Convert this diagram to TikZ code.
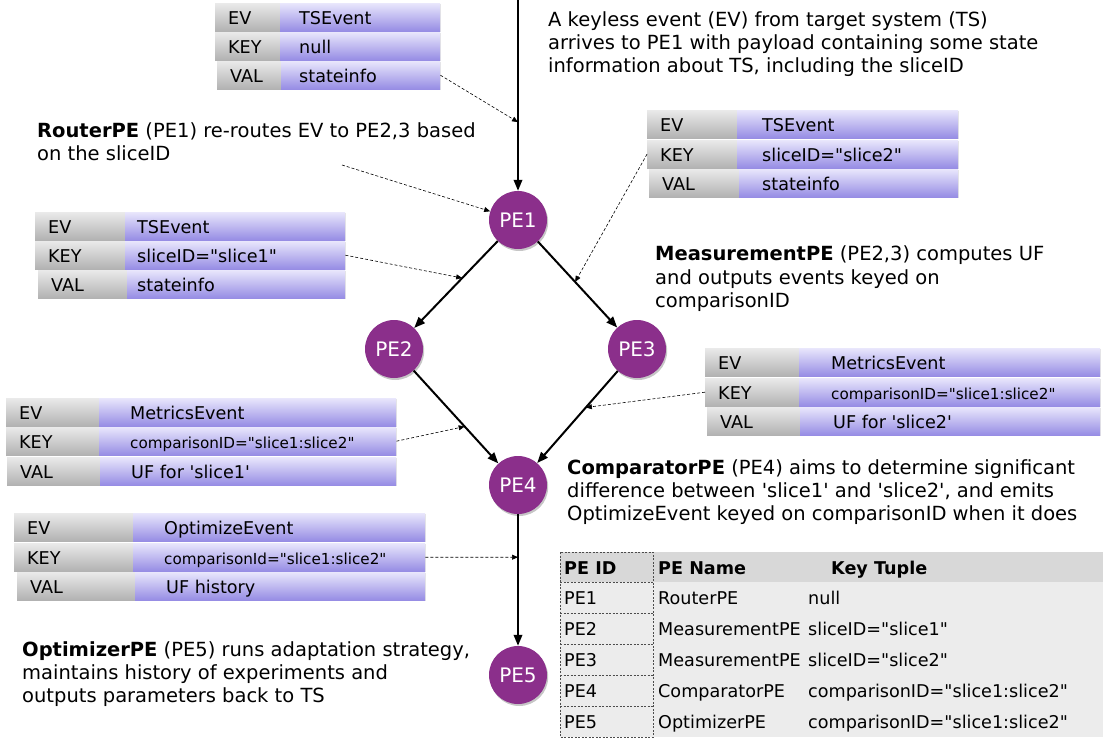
\documentclass[tikz,border=0pt]{standalone}
\usepackage{fontspec}
\setmainfont{DejaVu Sans}[Ligatures=TeXOff]
\usetikzlibrary{arrows.meta,shadows,calc}
\definecolor{pepurple}{RGB}{139,47,139}
\definecolor{grayA}{RGB}{234,234,234}
\definecolor{grayB}{RGB}{178,178,178}
\definecolor{purA}{RGB}{232,230,252}
\definecolor{purB}{RGB}{150,140,228}
\definecolor{hdrgray}{RGB}{216,216,216}
\definecolor{bodygray}{RGB}{236,236,236}
\newcommand{\tfont}{\fontsize{17.6}{20}\selectfont}
\newcommand{\sfont}{\fontsize{15.2}{18}\selectfont}
\newcommand{\dfont}{\fontsize{19.5}{23.3}\selectfont}
\newcommand{\sq}{\textquotesingle}
\newcommand{\dq}{\textquotedbl}
\newcommand{\evrow}[9]{%
  \node[graycell, minimum width={(#4-#2)*1pt}] (#1g) at (#2,#3) {};
  \node[purcell, minimum width={(#5-#4)*1pt}] (#1p) at (#4,#3) {};
  \node[celltext] (#1l) at ({#2+13},{#3+21.5}) {#6};
  \node[celltext, font=#9] (#1v) at ({#4+#8},{#3+21.5}) {#7};
}
\begin{document}
\begin{tikzpicture}[x=1pt,y=-1pt,
  cellbase/.style={anchor=north west, minimum height=28pt, inner sep=0pt,
    drop shadow={shadow xshift=1pt, shadow yshift=-1.2pt, opacity=0.2}},
  graycell/.style={cellbase, top color=grayA, bottom color=grayB},
  purcell/.style={cellbase, top color=purA, bottom color=purB},
  celltext/.style={anchor=base west, inner sep=0pt, font=\tfont},
  pe/.style={circle, fill=pepurple, text=white, minimum size=58pt, inner sep=0pt,
    font=\fontsize{20}{20}\selectfont,
    drop shadow={shadow xshift=1.2pt, shadow yshift=-2pt, opacity=0.45}},
  conn/.style={line width=2pt, -{Triangle[length=11pt,width=8.5pt]}},
  dconn/.style={dash pattern=on 3pt off 2pt, line width=0.6pt, -{Triangle[length=6pt,width=5pt]}},
  desc/.style={anchor=north west, inner sep=0pt, align=left, font=\dfont},
  tabtext/.style={anchor=base west, inner sep=0pt, font=\tfont},
  tabdash/.style={dash pattern=on 2pt off 1.5pt, line width=0.6pt, draw=black!70}
]
\useasboundingbox (0,0) rectangle (1103,738);

% ---- PE nodes ----
\node[pe] (pe1) at (518,220) {PE1};
\node[pe] (pe2) at (394,349) {PE2};
\node[pe] (pe3) at (637,349) {PE3};
\node[pe] (pe4) at (518,485) {PE4};
\node[pe] (pe5) at (518,675) {PE5};
\coordinate (top) at (518,0);

\draw[conn] (top) -- (pe1);
\draw[conn] (pe1) -- (pe2);
\draw[conn] (pe1) -- (pe3);
\draw[conn] (pe2) -- (pe4);
\draw[conn] (pe3) -- (pe4);
\draw[conn] (pe4) -- (pe5);

\coordinate (m0) at ($(top)!0.555!(pe1)$);
\coordinate (m12) at ($(pe1)!0.45!(pe2)$);
\coordinate (m13) at ($(pe1)!0.48!(pe3)$);
\coordinate (m24) at ($(pe2)!0.57!(pe4)$);
\coordinate (m34) at ($(pe3)!0.43!(pe4)$);
\coordinate (m45) at ($(pe4)!0.38!(pe5)$);
\coordinate (rnote) at (342,165);

% ---- event tables ----
\evrow{t1a}{215}{3}{280}{440}{EV}{TSEvent}{19}{\tfont}
\evrow{t1b}{215}{32}{280}{440}{KEY}{null}{19}{\tfont}
\evrow{t1c}{217}{61}{281}{440}{VAL}{stateinfo}{18}{\tfont}

\evrow{t2a}{647}{110}{737}{958}{EV}{TSEvent}{25}{\tfont}
\evrow{t2b}{647}{140}{737}{958}{KEY}{sliceID=\dq slice2\dq}{25}{\tfont}
\evrow{t2c}{649}{169}{739}{958}{VAL}{stateinfo}{23}{\tfont}

\evrow{t3a}{35}{212}{125}{345}{EV}{TSEvent}{12}{\tfont}
\evrow{t3b}{35}{241}{125}{345}{KEY}{sliceID=\dq slice1\dq}{12}{\tfont}
\evrow{t3c}{38}{270}{127}{345}{VAL}{stateinfo}{10}{\tfont}

\evrow{t4a}{6}{398}{99}{396}{EV}{MetricsEvent}{31}{\tfont}
\evrow{t4b}{6}{427}{99}{396}{KEY}{comparisonID=\dq slice1:slice2\dq}{31}{\sfont}
\evrow{t4c}{7}{457}{100}{396}{VAL}{UF for \sq slice1\sq}{31}{\tfont}

\evrow{t5a}{705}{348}{799}{1100}{EV}{MetricsEvent}{32}{\tfont}
\evrow{t5b}{705}{378}{799}{1100}{KEY}{comparisonID=\dq slice1:slice2\dq}{32}{\sfont}
\evrow{t5c}{707}{407}{800}{1100}{VAL}{UF for \sq slice2\sq}{33}{\tfont}

\evrow{t6a}{14}{513}{133}{425}{EV}{OptimizeEvent}{31}{\tfont}
\evrow{t6b}{14}{543}{133}{425}{KEY}{comparisonId=\dq slice1:slice2\dq}{31}{\sfont}
\evrow{t6c}{17}{572}{135}{425}{VAL}{UF history}{31}{\tfont}

% ---- dashed connectors ----
\draw[dconn] (t1cp.east) -- (m0);
\draw[dconn] (rnote) -- (pe1);
\draw[dconn] (t3bp.east) -- (m12);
\draw[dconn] (t2bg.west) -- (m13);
\draw[dconn] (t4bp.east) -- (m24);
\draw[dconn] (t5bg.west) -- (m34);
\draw[dconn] (t6bp.east) -- (m45);

% ---- descriptions ----
\node[desc] (d1) at (548,11) {A keyless event (EV) from target system (TS)\\arrives to PE1 with payload containing some state\\information about TS, including the sliceID};
\node[desc] (d2) at (37,122) {\textbf{RouterPE} (PE1) re-routes EV to PE2,3 based\\on the sliceID};
\node[desc] (d3) at (655,246) {\textbf{MeasurementPE} (PE2,3) computes UF\\and outputs events keyed on\\comparisonID};
\node[desc] (d4) at (567,459) {\textbf{ComparatorPE} (PE4) aims to determine significant\\difference between \sq slice1\sq{} and \sq slice2\sq, and emits\\OptimizeEvent keyed on comparisonID when it does};
\node[desc] (d5) at (22,641) {\textbf{OptimizerPE} (PE5) runs adaptation strategy,\\maintains history of experiments and\\outputs parameters back to TS};

% ---- PE table ----
\fill[bodygray] (560,582) rectangle (1103,737);
\fill[hdrgray] (560,552) rectangle (1103,582);
\draw[tabdash] (560,552) rectangle (653,737);
\foreach \yy in {582,613,644,675,706} {\draw[tabdash] (560,\yy) -- (653,\yy);}
\node[tabtext, font=\bfseries\tfont] (h1) at (564,574) {PE ID};
\node[tabtext, font=\bfseries\tfont] (h2) at (658,574) {PE Name};
\node[tabtext, font=\bfseries\tfont] (h3) at (831,574) {Key Tuple};
\node[tabtext] (r1a) at (564,604) {PE1};
\node[tabtext] (r1b) at (658,604) {RouterPE};
\node[tabtext] (r1c) at (808,604) {null};
\node[tabtext] (r2a) at (564,635) {PE2};
\node[tabtext] (r2b) at (658,635) {MeasurementPE};
\node[tabtext] (r2c) at (808,635) {sliceID=\dq slice1\dq};
\node[tabtext] (r3a) at (564,666) {PE3};
\node[tabtext] (r3b) at (658,666) {MeasurementPE};
\node[tabtext] (r3c) at (808,666) {sliceID=\dq slice2\dq};
\node[tabtext] (r4a) at (564,697) {PE4};
\node[tabtext] (r4b) at (658,697) {ComparatorPE};
\node[tabtext] (r4c) at (808,697) {comparisonID=\dq slice1:slice2\dq};
\node[tabtext] (r5a) at (564,728) {PE5};
\node[tabtext] (r5b) at (658,728) {OptimizerPE};
\node[tabtext] (r5c) at (808,728) {comparisonID=\dq slice1:slice2\dq};
\end{tikzpicture}
\end{document}
